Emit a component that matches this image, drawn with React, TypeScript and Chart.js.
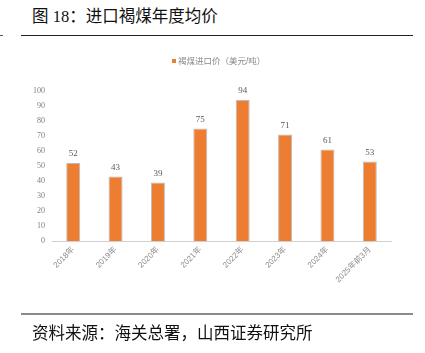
import React, { useEffect, useRef } from "react";
import { Chart, registerables } from "chart.js";

Chart.register(...registerables);

const categories = ["2018年", "2019年", "2020年", "2021年", "2022年", "2023年", "2024年", "2025年前3月"];
const prices = [52, 43, 39, 75, 94, 71, 61, 53];
const seriesName = "褐煤进口价（美元/吨）";
const yTicks = [0, 10, 20, 30, 40, 50, 60, 70, 80, 90, 100];

const BAR_COLOR = "#ED7D31";
const SERIF = "'Liberation Serif', 'Noto Sans CJK SC', serif";
const SANS = "'Liberation Sans', 'Noto Sans CJK SC', sans-serif";

const valueLabels = {
  id: "valueLabels",
  afterDatasetsDraw(chart: any) {
    const ctx = chart.ctx;
    const meta = chart.getDatasetMeta(0);
    ctx.save();
    ctx.font = `9px ${SERIF}`;
    ctx.fillStyle = "#595959";
    ctx.textAlign = "center";
    ctx.textBaseline = "middle";
    meta.data.forEach((bar: any, i: number) => {
      ctx.fillText(String(prices[i]), bar.x, bar.y - 9);
    });
    ctx.restore();
  },
};

export default function App() {
  const ref = useRef<HTMLCanvasElement | null>(null);
  useEffect(() => {
    if (!ref.current) return;
    const chart = new Chart(ref.current, {
      type: "bar",
      data: {
        labels: categories,
        datasets: [
          {
            label: seriesName,
            data: prices,
            backgroundColor: BAR_COLOR,
            borderColor: "rgba(170,170,170,0.8)",
            borderWidth: 1,
            categoryPercentage: 1,
            barPercentage: 0.33,
          },
        ],
      },
      options: {
        responsive: false,
        animation: false,
        layout: { padding: { left: 0, right: 34, top: 91, bottom: 0 } },
        plugins: { legend: { display: false }, tooltip: { enabled: false } },
        scales: {
          x: {
            grid: { display: false, drawTicks: false },
            border: { display: true, color: "#d0d0d0", width: 1 },
            ticks: {
              color: "#8c8c8c",
              font: { size: 8, family: SANS },
              maxRotation: 45,
              minRotation: 45,
              padding: 4,
              autoSkip: false,
            },
            afterFit: (s: any) => {
              s.height = 112;
            },
          },
          y: {
            min: 0,
            max: 100,
            grid: { display: false, drawTicks: false },
            border: { display: false },
            afterBuildTicks: (s: any) => {
              s.ticks = yTicks.map((v) => ({ value: v }));
            },
            ticks: {
              color: "#7f7f7f",
              font: { size: 8, family: SERIF },
              padding: 7,
            },
            afterFit: (s: any) => {
              s.width = 52;
            },
          },
        },
      },
      plugins: [valueLabels],
    });
    return () => chart.destroy();
  }, []);

  return (
    <div style={{ position: "absolute", left: 0, top: 0, width: 425, height: 353, background: "#fff", overflow: "hidden" }}>
      <div style={{ position: "absolute", left: 32, top: 6, fontSize: 16.5, lineHeight: "22px", fontFamily: SERIF, color: "#111", whiteSpace: "nowrap" }}>
        图 18：进口褐煤年度均价
      </div>
      <div style={{ position: "absolute", left: 21, top: 35, width: 392, height: 1, background: "#222" }} />
      <div style={{ position: "absolute", left: 0, top: 35, width: 3, height: 1, background: "#555" }} />
      <canvas ref={ref} width={425} height={353} style={{ position: "absolute", left: 0, top: 0 }} />
      <div style={{ position: "absolute", left: 172, top: 55, display: "flex", alignItems: "center", fontSize: 8.5, lineHeight: "12px", fontFamily: SANS, color: "#8c8c8c", whiteSpace: "nowrap" }}>
        <span style={{ display: "inline-block", width: 4, height: 4, background: BAR_COLOR, marginRight: 2 }} />
        {seriesName}
      </div>
      <div style={{ position: "absolute", left: 21, top: 313, width: 392, height: 2, background: "#8a8a8a" }} />
      <div style={{ position: "absolute", left: 32, top: 322, fontSize: 16.5, lineHeight: "22px", fontFamily: SANS, color: "#111", whiteSpace: "nowrap" }}>
        资料来源：海关总署，山西证券研究所
      </div>
    </div>
  );
}
